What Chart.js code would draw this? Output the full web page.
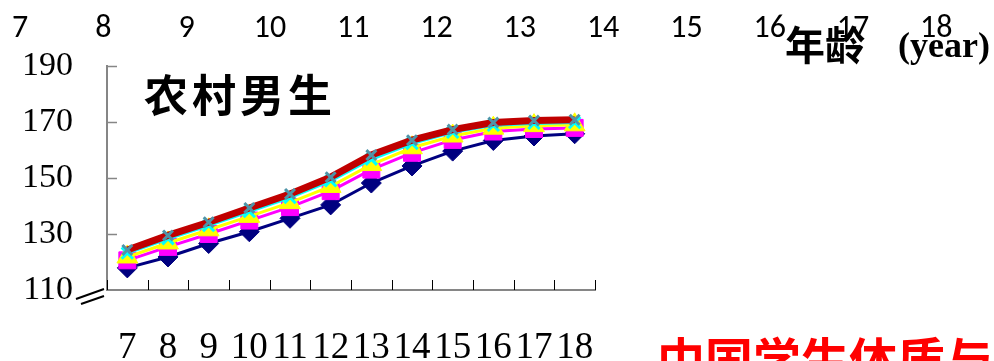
<!DOCTYPE html>
<html>
<head>
<meta charset="utf-8">
<script src="https://cdn.jsdelivr.net/npm/chart.js@4.4.0/dist/chart.umd.min.js"></script>
<style>
  body { margin: 0; background: #fff; }
  #wrap { position: relative; width: 994px; height: 361px; overflow: hidden; }
</style>
</head>
<body>
<div id="wrap"><canvas id="heightChart" width="994" height="361"></canvas></div>
<script>
// ages (years) and y-axis ticks (height, cm)
const ages = ['7', '8', '9', '10', '11', '12', '13', '14', '15', '16', '17', '18'];
const yTicks = [110, 130, 150, 170, 190];

// mean height of rural boys by age, one series per survey
const navyHeights    = [117.9, 121.8, 126.6, 130.8, 135.6, 140.4, 148.2, 154.3, 159.6, 163.4, 165.0, 165.8];
const magentaHeights = [120.6, 125.4, 130.0, 134.8, 139.6, 145.3, 153.0, 159.0, 163.6, 166.6, 167.5, 167.9];
const yellowHeights  = [121.8, 126.8, 131.5, 136.3, 141.2, 147.0, 154.8, 160.8, 165.0, 167.8, 168.7, 169.0];
const cyanHeights    = [123.2, 128.3, 133.0, 138.0, 143.0, 149.0, 156.7, 162.3, 166.3, 168.8, 169.5, 169.8];
const redHeights     = [124.3, 129.5, 134.2, 139.3, 144.3, 150.3, 158.2, 163.5, 167.3, 169.8, 170.5, 170.8];

const serif = '"Liberation Serif", "Times New Roman", serif';
const cjk = '"Noto Sans CJK SC", sans-serif';

// tick marks inside the plot, axis break, and the free text around the chart
const decorations = {
    id: 'decorations',
    beforeDatasetsDraw(chart) {
        const { ctx, scales: { x, y } } = chart;
        ctx.save();
        ctx.strokeStyle = '#000';
        ctx.lineWidth = 1;
        for (let i = 0; i <= ages.length; i++) {
            const px = Math.round(x.getPixelForValue(i - 0.5)) + 0.5;
            ctx.beginPath();
            ctx.moveTo(px, y.bottom);
            ctx.lineTo(px, y.bottom - 10);
            ctx.stroke();
        }
        ctx.strokeStyle = '#868686';
        ctx.lineWidth = 1.5;
        yTicks.slice(1).forEach(v => {
            const py = Math.round(y.getPixelForValue(v)) + 0.5;
            ctx.beginPath();
            ctx.moveTo(x.left, py);
            ctx.lineTo(x.left + 10, py);
            ctx.stroke();
        });
        ctx.restore();
    },
    afterDraw(chart) {
        const { ctx, scales: { x, y } } = chart;
        ctx.save();

        // axis break "//"
        ctx.strokeStyle = '#000';
        ctx.lineWidth = 2;
        const bx = x.left, by = y.bottom;
        ctx.beginPath();
        ctx.moveTo(bx - 31, by + 9);
        ctx.lineTo(bx - 3, by - 1);
        ctx.moveTo(bx - 26, by + 14);
        ctx.lineTo(bx - 3, by + 6);
        ctx.stroke();

        // age row along the top
        ctx.fillStyle = '#000';
        ctx.font = '32px Carlito, Lato, "Open Sans", sans-serif';
        ctx.textAlign = 'center';
        ctx.textBaseline = 'alphabetic';
        ages.forEach((a, i) => ctx.fillText(a, 20 + 83.3 * i, 37));

        // axis caption
        ctx.textAlign = 'left';
        ctx.font = 'bold 40px ' + cjk;
        ctx.fillText('年龄', 785, 60);
        ctx.font = 'bold 36px ' + serif;
        ctx.fillText('(year)', 898, 57);

        // panel title
        ctx.font = 'bold 44px ' + cjk;
        ctx.letterSpacing = '4px';
        ctx.fillText('农村男生', 144, 112);
        ctx.letterSpacing = '0px';

        // caption cut off at the bottom edge
        ctx.fillStyle = '#ff0000';
        ctx.font = 'bold 48px ' + cjk;
        ctx.fillText('中国学生体质与', 657, 378);

        ctx.restore();
    }
};

const line = (data, color, width, style, radius, order, pointColor) => ({
    data,
    borderColor: color,
    borderWidth: width,
    pointStyle: style,
    pointRadius: radius,
    pointBackgroundColor: pointColor || color,
    pointBorderColor: pointColor || color,
    pointBorderWidth: style.startsWith('cross') ? 3 : 1,
    tension: 0,
    order
});

new Chart(document.getElementById('heightChart'), {
    type: 'line',
    data: {
        labels: ages,
        datasets: [
            line(navyHeights, '#000080', 3, 'rectRot', 10, 4),
            line(magentaHeights, '#ff00ff', 3, 'rect', 12, 3),
            line(yellowHeights, '#ffff00', 3, 'triangle', 12, 2),
            line(cyanHeights, '#00ffff', 3, 'crossRot', 8, 1),
            line(redHeights, '#c00000', 7, 'crossRot', 7, 0, '#4f94a8')
        ]
    },
    options: {
        responsive: false,
        animation: false,
        layout: { padding: { left: 0, top: 66, right: 399, bottom: 0 } },
        plugins: { legend: { display: false }, tooltip: { enabled: false } },
        scales: {
            x: {
                offset: true,
                grid: { display: false, drawTicks: false, offset: true },
                border: { color: '#868686', width: 2 },
                ticks: {
                    autoSkip: false, maxRotation: 0, minRotation: 0,
                    padding: 36, color: '#000',
                    font: { family: serif, size: 37 }
                },
                afterFit: s => { s.height = 71; }
            },
            y: {
                min: 110,
                max: 190,
                grid: { display: false, drawTicks: false },
                border: { color: '#868686', width: 2 },
                ticks: { padding: 34, color: '#000', font: { family: serif, size: 34 } },
                afterBuildTicks: s => { s.ticks = yTicks.map(v => ({ value: v })); },
                afterFit: s => { s.width = 107; }
            }
        }
    },
    plugins: [decorations]
});
</script>
</body>
</html>
